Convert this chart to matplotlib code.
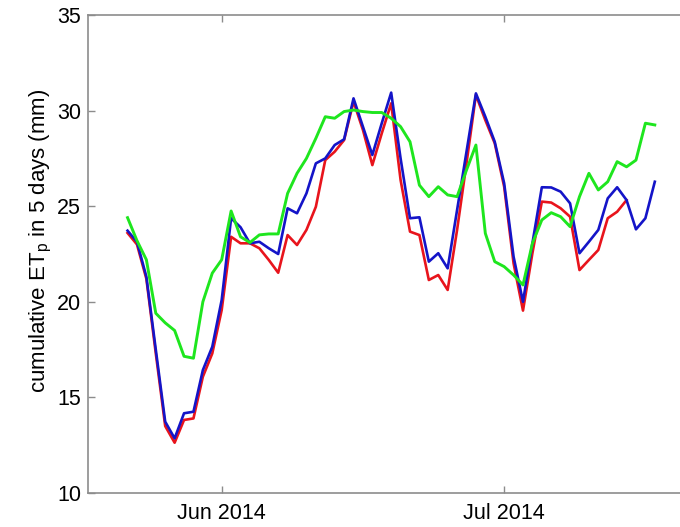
import matplotlib
matplotlib.use("Agg")
import matplotlib.pyplot as plt
import matplotlib.dates as mdates
import numpy as np
import pandas as pd

plt.rcParams['font.family'] = ['Liberation Sans', 'DejaVu Sans']

# Daily dates of the 5-day cumulative series
dates = pd.date_range("2014-05-22", periods=57, freq="D")

et_green = [24.4, 23.2, 22.2, 19.4, 18.9, 18.5, 17.15, 17.05, 20.0, 21.5,
            22.2, 24.75, 23.4, 23.1, 23.5, 23.55, 23.55, 25.67, 26.72, 27.5,
            28.55, 29.68, 29.6, 29.95, 30.03, 29.95, 29.9, 29.9, 29.6, 29.16,
            28.37, 26.1, 25.5, 26.02, 25.59, 25.5, 26.89, 28.2, 23.58, 22.1,
            21.84, 21.4, 20.88, 23.06, 24.28, 24.66, 24.45, 23.93, 25.5, 26.72,
            25.85, 26.28, 27.33, 27.06, 27.41, 29.34, 29.25]

et_blue = [23.72, 23.14, 21.31, 17.5, 13.73, 12.86, 14.17, 14.25, 16.43, 17.65,
           20.1, 24.37, 23.9, 23.06, 23.14, 22.8, 22.5, 24.89, 24.63, 25.67,
           27.24, 27.5, 28.2, 28.5, 30.64, 29.16, 27.68, 29.34, 30.94, 27.5,
           24.37, 24.42, 22.1, 22.54, 21.75, 24.8, 27.85, 30.9, 29.68, 28.37,
           26.2, 22.36, 20.0, 23.06, 25.99, 25.98, 25.76, 25.15, 22.54, 23.14,
           23.76, 25.41, 25.99, 25.32, 23.79, 24.37, 26.28]

et_red = [23.6, 23.0, 21.2, 17.3, 13.5, 12.63, 13.82, 13.9, 16.08, 17.3,
          19.57, 23.4, 23.06, 23.06, 22.8, 22.19, 21.52, 23.49, 22.97, 23.76,
          24.97, 27.41, 27.85, 28.46, 30.47, 28.99, 27.15, 28.81, 30.38, 26.37,
          23.67, 23.49, 21.14, 21.4, 20.62, 23.76, 27.24, 30.82, 29.5, 28.29,
          26.02, 22.01, 19.54, 22.54, 25.24, 25.19, 24.89, 24.45, 21.66, 22.19,
          22.71, 24.37, 24.71, 25.32]

yticks = [10, 15, 20, 25, 30, 35]

fig = plt.figure(figsize=(6.8, 5.27), dpi=100)
ax = fig.add_axes([88 / 680, 34 / 527, 612 / 680, 478 / 527])

ax.plot(dates[:len(et_red)], et_red, color="#e8141c", lw=1.9, zorder=2)
ax.plot(dates, et_blue, color="#1414c8", lw=1.9, zorder=3)
ax.plot(dates, et_green, color="#1ee61e", lw=2.1, zorder=4)

jun1 = pd.Timestamp("2014-06-01")
ax.set_xlim(jun1 - pd.Timedelta(days=14.2), jun1 + pd.Timedelta(days=50.8))
ax.set_ylim(10, 35)
ax.set_yticks(yticks)

ax.xaxis.set_major_locator(mdates.MonthLocator())
ax.xaxis.set_major_formatter(mdates.DateFormatter("%b %Y"))

for s in ax.spines.values():
    s.set_color("#8c8c8c")
    s.set_linewidth(1.2)
ax.tick_params(direction="in", color="#8c8c8c", length=5, width=1,
               labelsize=15.5, top=True, right=True)
ax.tick_params(axis="x", pad=7)
ax.tick_params(axis="y", pad=5)

ax.set_ylabel(r"cumulative ET$_\mathregular{p}$ in 5 days (mm)", fontsize=16)
ax.yaxis.set_label_coords(-0.056, 0.527)

fig.savefig("out.png", dpi=100)
